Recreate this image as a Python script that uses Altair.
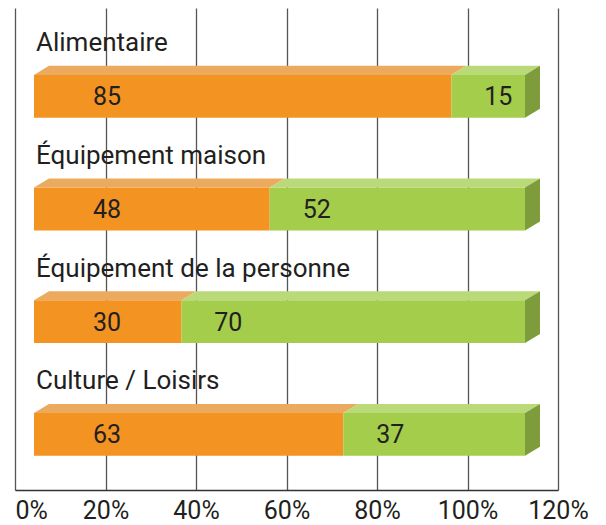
import altair as alt
import pandas as pd

# ---- data ----
categories = ["Alimentaire", "Équipement maison", "Équipement de la personne", "Culture / Loisirs"]
part_orange = [85, 48, 30, 63]
part_green = [15, 52, 70, 37]
tick_values = [0, 20, 40, 60, 80, 100, 120]

# ---- styles ----
FONT = "Roboto"
TEXT = "#231F20"
ORANGE, ORANGE_TOP = "#F39322", "#ECAA5E"
GREEN, GREEN_TOP, GREEN_SIDE = "#A3CD4B", "#BAD978", "#7E9C3B"
HALF = 0.19   # half bar thickness (row units)
DY = 0.08     # 3D depth, vertical (row units)
DX = 3.05     # 3D depth, horizontal (value units)

rows = []
for i, (cat, o, g) in enumerate(zip(categories, part_orange, part_green)):
    rows.append(dict(cat=cat, row=i, series="orange", value=o, start=0, end=o))
    rows.append(dict(cat=cat, row=i, series="green", value=g, start=o, end=o + g))
df = pd.DataFrame(rows)
df["y_top"] = df["row"] - HALF
df["y_bot"] = df["row"] + HALF
df["key"] = df["cat"] + "|" + df["series"]

top_rows = []
for r in df.itertuples():
    top_rows.append(dict(key=r.key, series=r.series, y=r.row - HALF, x=r.start, x2=r.end))
    top_rows.append(dict(key=r.key, series=r.series, y=r.row - HALF - DY, x=r.start + DX, x2=r.end + DX))
top_df = pd.DataFrame(top_rows)

side_rows = []
for r in df[df.series == "green"].itertuples():
    side_rows.append(dict(row=r.row, x=r.end, y=r.row - HALF, y2=r.row + HALF))
    side_rows.append(dict(row=r.row, x=r.end + DX, y=r.row - HALF - DY, y2=r.row + HALF - DY))
side_df = pd.DataFrame(side_rows)

xs = alt.Scale(domain=[-3.87, 106.72], nice=False, zero=False)
ys = alt.Scale(domain=[-0.7835, 3.4935], nice=False, zero=False, reverse=True)
sdom = ["orange", "green"]

front = alt.Chart(df).mark_rect().encode(
    x=alt.X("start:Q", scale=xs, axis=None), x2="end:Q",
    y=alt.Y("y_top:Q", scale=ys, axis=None), y2="y_bot:Q",
    color=alt.Color("series:N", scale=alt.Scale(domain=sdom, range=[ORANGE, GREEN]), legend=None),
)

top = alt.Chart(top_df).mark_area(orient="horizontal").encode(
    y=alt.Y("y:Q", scale=ys, axis=None),
    x=alt.X("x:Q", scale=xs, axis=None), x2="x2:Q",
    detail="key:N",
    color=alt.Color("series:N", scale=alt.Scale(domain=sdom, range=[ORANGE_TOP, GREEN_TOP]), legend=None),
)

side = alt.Chart(side_df).mark_area(orient="vertical", color=GREEN_SIDE).encode(
    x=alt.X("x:Q", scale=xs, axis=None),
    y=alt.Y("y:Q", scale=ys, axis=None), y2="y2:Q",
    detail="row:N",
)

num_o = alt.Chart(df).transform_filter("datum.series == 'orange'").mark_text(
    align="center", baseline="alphabetic", dx=73, dy=9, font=FONT, fontSize=25, color=TEXT
).encode(x=alt.X("start:Q", scale=xs, axis=None), y=alt.Y("row:Q", scale=ys, axis=None), text="value:Q")

num_g = alt.Chart(df).transform_filter("datum.series == 'green'").mark_text(
    align="center", baseline="alphabetic", dx=47, dy=9, font=FONT, fontSize=25, color=TEXT
).encode(x=alt.X("start:Q", scale=xs, axis=None), y=alt.Y("row:Q", scale=ys, axis=None), text="value:Q")

cat_lab = alt.Chart(df).transform_filter("datum.series == 'orange'").mark_text(
    align="left", baseline="alphabetic", dx=2, dy=-45, font=FONT, fontSize=26, color=TEXT
).encode(x=alt.X("start:Q", scale=xs, axis=None), y=alt.Y("row:Q", scale=ys, axis=None), text="cat:N")

bars = alt.layer(front, top, side, num_o, num_g, cat_lab).resolve_scale(color="independent")

axis_layer = alt.Chart(pd.DataFrame({"t": tick_values})).mark_point(opacity=0).encode(
    x=alt.X("t:Q", scale=alt.Scale(domain=[0, 120], nice=False),
            axis=alt.Axis(values=tick_values, labelExpr="datum.value + '%'", title=None,
                          grid=True, gridColor="#555555", gridWidth=1.3,
                          domainColor="#333333", domainWidth=1.6, ticks=False,
                          labelFont=FONT, labelFontSize=25,
                          labelColor=TEXT, labelPadding=8,
                          labelFlush=False,
                          labelAlign={"condition": {"test": "datum.value == 0", "value": "left"}, "value": "center"}))
)

chart = alt.layer(axis_layer, bars).resolve_scale(x="independent").properties(
    width=543, height=482,
    padding={"left": 7, "top": 0, "right": 40, "bottom": 36},
    autosize=alt.AutoSizeParams(type="none"),
).configure_view(strokeWidth=0)

chart.save("out.html", embed_options={"renderer": "svg", "actions": False})
